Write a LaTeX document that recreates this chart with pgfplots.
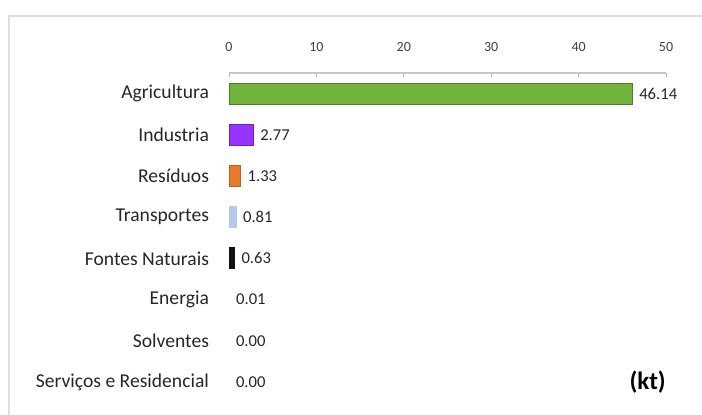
\documentclass[border=0pt]{standalone}
\usepackage{pgfplots}
\pgfplotsset{compat=1.18}
\usepackage{fontspec}
\setmainfont{Carlito}
\definecolor{cgreen}{HTML}{70B43C}
\definecolor{cpurple}{HTML}{9933FF}
\definecolor{corange}{HTML}{E8782A}
\definecolor{cblue}{HTML}{B8C8E8}
\definecolor{cblack}{HTML}{111111}
\begin{document}
\begin{tikzpicture}
\path[use as bounding box] (0,0) rectangle (351pt,-207.5pt);
\draw[gray!25, line width=1pt] (351pt,-8pt) -- (4.5pt,-8pt) -- (4.5pt,-207.5pt);
\begin{axis}[
  at={(114.5pt,-36.5pt)}, anchor=north west,
  scale only axis, width=218.5pt, height=164.75pt,
  xbar, bar width=10.5pt, bar shift=0pt,
  xmin=0, xmax=50, ymin=-0.5, ymax=7.5, y dir=reverse,
  axis x line*=top, axis y line*=left,
  x axis line style={gray!45, line width=0.6pt},
  y axis line style={draw=none},
  xtick={0,10,20,30,40,50},
  x tick style={gray!60, line width=0.5pt},
  major tick length=2pt,
  xticklabel style={font=\fontsize{7}{8}\selectfont, text=black!75, yshift=7pt},
  /pgf/number format/assume math mode=true,
  ytick={0,1,2,3,4,5,6,7},
  yticklabels={Agricultura, Industria, Resíduos, Transportes, Fontes Naturais, Energia, Solventes, Serviços e Residencial},
  yticklabel style={font=\fontsize{9.8}{11}\selectfont, text=black!85, xshift=-4.5pt},
  y tick style={draw=none},
  nodes near coords,
  nodes near coords style={font=\fontsize{8.3}{10}\selectfont, text=black!85, /pgf/number format/.cd, fixed, fixed zerofill, precision=2, assume math mode=true},
  clip=false,
]
\addplot[fill=cgreen, draw=cgreen!70!black, line width=0.4pt] coordinates {(46.14,0)};
\addplot[fill=cpurple, draw=cpurple!70!black, line width=0.4pt] coordinates {(2.77,1)};
\addplot[fill=corange, draw=corange!80!black, line width=0.4pt] coordinates {(1.33,2)};
\addplot[fill=cblue, draw=cblue, line width=0.4pt] coordinates {(0.81,3)};
\addplot[fill=cblack, draw=cblack, line width=0.4pt] coordinates {(0.63,4)};
\addplot[fill=none, draw=none] coordinates {(0.01,5)};
\addplot[fill=none, draw=none] coordinates {(0.00,6)};
\addplot[fill=none, draw=none] coordinates {(0.00,7)};
\node[font=\bfseries\fontsize{12.5}{14}\selectfont] at (axis cs:47.9,7) {(kt)};
\end{axis}
\end{tikzpicture}
\end{document}
